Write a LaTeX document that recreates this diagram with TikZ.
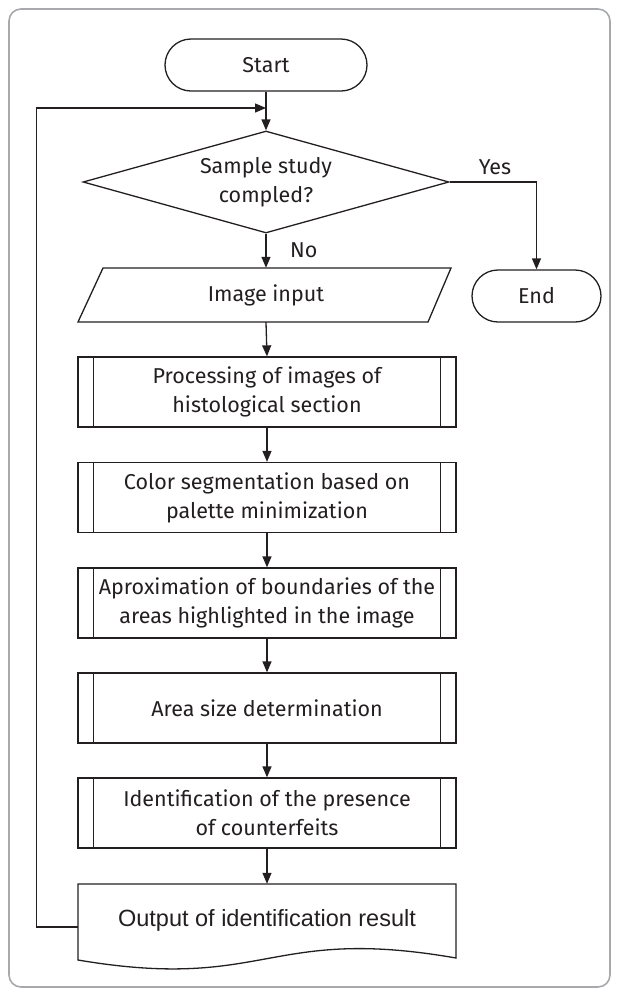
\documentclass[tikz,border=0pt]{standalone}
\usepackage{fontspec}
\setmainfont{Fira Sans}
\newfontfamily\arialf{Liberation Sans}
\usetikzlibrary{arrows.meta,shapes.geometric,shapes.misc}
\definecolor{ink}{HTML}{231F20}
\definecolor{framec}{HTML}{A7A9AC}
\begin{document}
\begin{tikzpicture}[x=1pt,y=-1pt,
  every node/.style={text=ink, font=\fontsize{21.5}{29}\selectfont, align=center, inner sep=0pt},
  line/.style={draw=ink, line width=1.3pt},
  arr/.style={line, -{Triangle[length=11pt,width=9pt]}},
  pill/.style={line, rounded rectangle, rounded rectangle arc length=180, minimum height=52pt},
  procbox/.style={line, rectangle, minimum width=378pt, minimum height=70pt}]
\useasboundingbox (0,0) rectangle (618,994);
\draw[framec, line width=1.6pt, rounded corners=12pt] (9,9) rectangle (610,987);

\node[pill, minimum width=202pt] (start) at (266,65) {Start};
\node[line, diamond, aspect=3.6, minimum width=366pt, minimum height=102pt] (dec) at (266,182) {Sample study\\compled?};
\node[pill, minimum width=129pt] (end) at (536.5,296) {End};

\node[minimum width=350pt, minimum height=54pt] (img) at (266,295) {Image input};
\draw[line] (78,322) -- (103,268) -- (451,268) -- (428,322) -- cycle;

\node[procbox] (p1) at (267,392) {Processing of images of\\histological section};
\node[procbox] (p2) at (267,497.5) {Color segmentation based on\\palette minimization};
\node[procbox] (p3) at (267,603) {Aproximation of boundaries of the\\areas highlighted in the image};
\node[procbox] (p4) at (267,708) {Area size determination};
\node[procbox] (p5) at (267,813) {Identification of the presence\\of counterfeits};
\foreach \n in {p1,p2,p3,p4,p5}{
  \draw[line] ([xshift=16pt]\n.north west) -- ([xshift=16pt]\n.south west);
  \draw[line] ([xshift=-16pt]\n.north east) -- ([xshift=-16pt]\n.south east);
}

\node[minimum width=378pt, minimum height=86pt] (out) at (267,927) {};
\draw[line] (78,884) -- (456,884) -- (456,958) .. controls (267,925) and (267,992) .. (78,960) -- cycle;
\node[font=\arialf\fontsize{23.5}{28}\selectfont] (outtxt) at (267,920) {Output of identification result};

\coordinate (join) at (266,108);
\draw[arr] (start.south) -- (dec.north);
\draw[arr] (dec.east) -| (end.north);
\node (yes) at (495,167) {Yes};
\draw[arr] (dec.south) -- (img.north);
\node[anchor=west] (no) at (290,250) {No};
\draw[arr] (img.south) -- (p1.north);
\draw[arr] (p1.south) -- (p2.north);
\draw[arr] (p2.south) -- (p3.north);
\draw[arr] (p3.south) -- (p4.north);
\draw[arr] (p4.south) -- (p5.north);
\draw[arr] (p5.south) -- (out.north);
\draw[arr] (out.west) -- ++(-41,0) |- (join);
\end{tikzpicture}
\end{document}
